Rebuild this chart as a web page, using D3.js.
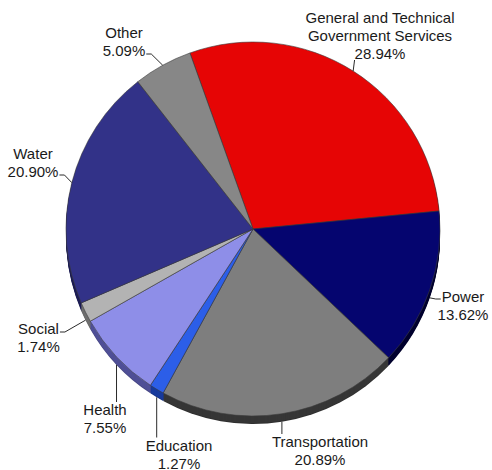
<!DOCTYPE html>
<html>
<head>
<meta charset="utf-8">
<script src="https://cdn.jsdelivr.net/npm/d3@7"></script>
<style>
  html, body { margin: 0; padding: 0; background: #fff; }
  svg { display: block; }
  .lbl { font-family: "Liberation Sans", Arial, Helvetica, sans-serif; font-size: 15px; fill: #1a1a1a; }
</style>
</head>
<body>
<svg id="chart" width="492" height="470"></svg>
<script>
// Spending shares by sector (percent of total)
const categories = [
  "General and Technical Government Services",
  "Power", "Transportation", "Education", "Health", "Social", "Water", "Other"
];
const shares = [28.94, 13.62, 20.89, 1.27, 7.55, 1.74, 20.90, 5.09];
const labelLines = [
  ["General and Technical", "Government Services"],
  ["Power"], ["Transportation"], ["Education"], ["Health"], ["Social"], ["Water"], ["Other"]
];
const topColors  = ["#e60505", "#05056f", "#7e7e7e", "#2c5ee8", "#8e8ee8", "#b3b3b3", "#323288", "#878787"];
const sideColors = ["#8a0000", "#00002e", "#363636", "#173a9c", "#4f4f96", "#6e6e6e", "#1c1c55", "#4a4a4a"];

// Geometry of the tilted disc
const cx = 253, cy = 229, r = 187, depth = 8;
const start = -0.344;

// Label placement: text centre x, first baseline, leader style
const labelLayout = [
  { x: 380, y: 23,  leader: "up" },
  { x: 463, y: 302, leader: "left" },
  { x: 320, y: 447, leader: "down" },
  { x: 179, y: 450.5, leader: "down" },
  { x: 105, y: 415, leader: "down" },
  { x: 38.5, y: 334, leader: "right", line: 0 },
  { x: 33,  y: 159, leader: "right", line: 1 },
  { x: 124, y: 38,  leader: "right", line: 1 }
];
const lineHeight = 18;

const svg = d3.select("#chart");
const data = categories.map((c, i) => ({
  name: c, value: shares[i], lines: labelLines[i].concat([shares[i].toFixed(2) + "%"]), i
}));

const pie = d3.pie().sort(null).value(d => d.value)
  .startAngle(start).endAngle(start + 2 * Math.PI);
const arcs = pie(data);
const arc = d3.arc().innerRadius(0).outerRadius(r);

// Extruded side: stacked darker copies shifted downward
const side = svg.append("g").attr("class", "side");
for (let k = depth; k >= 1; k--) {
  side.append("g")
    .attr("transform", `translate(${cx},${cy + k})`)
    .selectAll("path").data(arcs).join("path")
    .attr("d", arc)
    .attr("fill", d => k === depth ? d3.color(sideColors[d.data.i]).darker(0.4) : sideColors[d.data.i]);
}

// Top face
svg.append("g").attr("transform", `translate(${cx},${cy})`)
  .selectAll("path").data(arcs).join("path")
  .attr("d", arc)
  .attr("fill", d => topColors[d.data.i])
  .attr("stroke", "#3a3a3a")
  .attr("stroke-width", 0.6)
  .attr("stroke-linejoin", "round");

// Labels and leader lines
const labels = svg.append("g");
arcs.forEach(a => {
  const i = a.data.i;
  const lay = labelLayout[i];
  const mid = (a.startAngle + a.endAngle) / 2;
  const ax = cx + r * Math.sin(mid);
  let ay = cy - r * Math.cos(mid);
  if (Math.cos(mid) < 0) ay += depth;

  const t = labels.append("text").attr("class", "lbl").attr("text-anchor", "middle");
  const spans = a.data.lines.map((s, j) =>
    t.append("tspan").attr("x", lay.x).attr("y", lay.y + j * lineHeight).text(s));
  const width = j => spans[j].node().getComputedTextLength();
  const lastIdx = spans.length - 1;

  let pts;
  if (lay.leader === "up") {
    const left = lay.x - width(lastIdx) / 2;
    pts = [[ax, ay], [left, lay.y + lastIdx * lineHeight + 1]];
  } else if (lay.leader === "down") {
    pts = [[ax, ay], [ax, lay.y - 13]];
  } else if (lay.leader === "left") {
    const left = lay.x - width(0) / 2 - 1;
    const y = lay.y - 3;
    pts = [[ax, ay], [left - 5, y], [left, y]];
  } else {
    const j = lay.line;
    const right = lay.x + width(j) / 2 + 1;
    const y = lay.y + j * lineHeight - 2;
    pts = [[ax, ay], [right + 5, y], [right, y]];
  }
  labels.append("path")
    .attr("d", d3.line()(pts))
    .attr("fill", "none")
    .attr("stroke", "#2a2a2a")
    .attr("stroke-width", 1);
});
</script>
</body>
</html>
